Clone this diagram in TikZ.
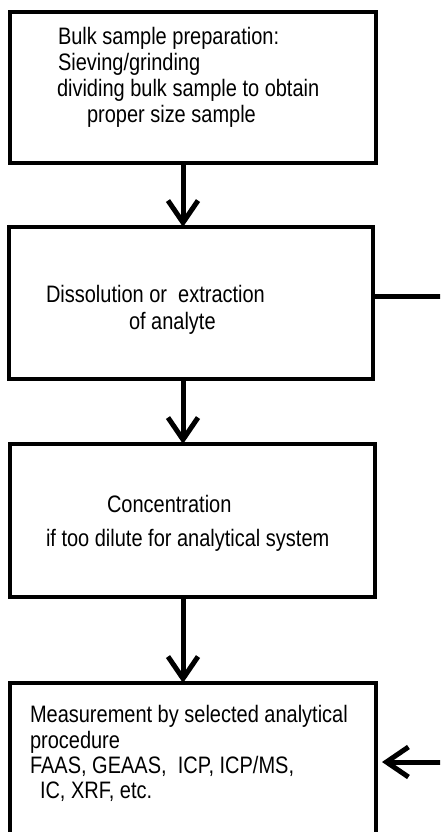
\documentclass[tikz,border=0pt]{standalone}
\usepackage{fontspec}
\setmainfont{Liberation Sans}[FakeStretch=0.84]
\usetikzlibrary{arrows.meta}
\tikzset{
  box/.style={draw=black, line width=4pt, inner sep=0pt, outer sep=0pt, anchor=north west, minimum width=366pt},
  txt/.style={inner sep=0pt, outer sep=0pt, anchor=base west, font=\fontsize{23.8}{25}\selectfont},
  conn/.style={line width=5pt, draw=black},
  arr/.style={conn, -{Straight Barb[length=22pt, width=30pt]}},
}
\begin{document}
\begin{tikzpicture}[x=1pt, y=-1pt]
\useasboundingbox (0,0) rectangle (440,832);
\clip (0,0) rectangle (440,832);
% boxes
\node[box, minimum height=151pt] (b1) at (10,12) {};
\node[box, minimum width=364pt, minimum height=152pt] (b2) at (9,227) {};
\node[box, minimum width=365pt, minimum height=153pt] (b3) at (10,444) {};
\node[box, minimum height=200pt] (b4) at (10,683) {};
% texts
\node[txt] (t1a) at (58,45) {Bulk sample preparation:};
\node[txt] (t1b) at (58,71) {Sieving/grinding};
\node[txt] (t1c) at (57,97) {dividing bulk sample to obtain};
\node[txt] (t1d) at (87,123) {proper size sample};
\node[txt] (t2a) at (46,302) {Dissolution or\ \ extraction};
\node[txt] (t2b) at (129,329) {of analyte};
\node[txt] (t3a) at (107,512) {Concentration};
\node[txt] (t3b) at (46,546) {if too dilute for analytical system};
\node[txt] (t4a) at (30,722) {Measurement by selected analytical};
\node[txt] (t4b) at (30,748) {procedure};
\node[txt] (t4c) at (30,773) {FAAS, GEAAS,\ \ ICP, ICP/MS,};
\node[txt] (t4d) at (40,798) {IC, XRF, etc.};
% connectors
\coordinate (ax) at (183,0);
\coordinate (rt1) at (445,296);
\coordinate (rt2) at (445,762);
\draw[arr] (b1.south -| ax) -- (b2.north -| ax);
\draw[arr] (b2.south -| ax) -- (b3.north -| ax);
\draw[arr] (b3.south -| ax) -- (b4.north -| ax);
\draw[conn] (b2.east |- rt1) -- (rt1);
\draw[arr, shorten >=6pt] (rt2) -- (b4.east |- rt2);
\end{tikzpicture}
\end{document}
